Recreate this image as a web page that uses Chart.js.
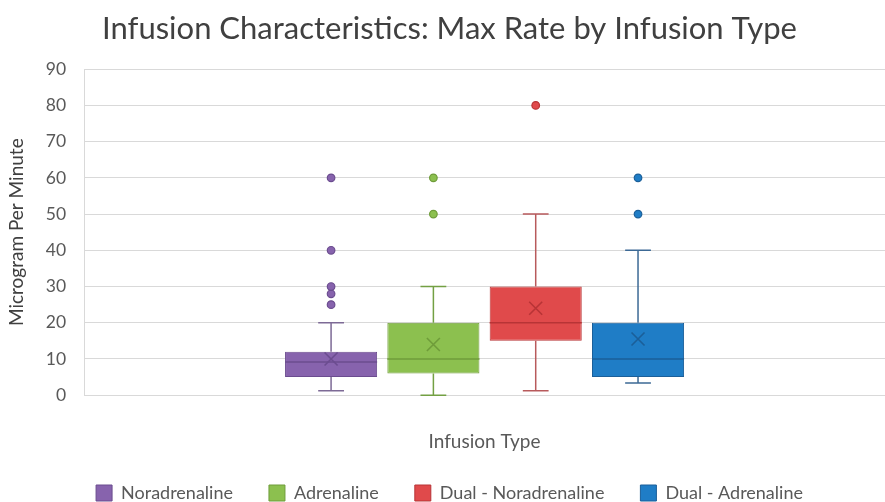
<!DOCTYPE html>
<html>
<head>
<meta charset="utf-8">
<script src="https://cdn.jsdelivr.net/npm/chart.js@4"></script>
<style>
html,body{margin:0;padding:0;background:#fff;}
#wrap{width:885px;height:502px;}
</style>
</head>
<body>
<div id="wrap"><canvas id="c"></canvas></div>
<script>
// ---- data ----
const categories = [''];
const seriesNames = ['Noradrenaline', 'Adrenaline', 'Dual - Noradrenaline', 'Dual - Adrenaline'];
const mins    = [1.2, 0, 1.2, 3.4];
const q1s     = [5, 6, 15, 5];
const medians = [9.2, 10, 20, 10];
const q3s     = [12, 20, 30, 20];
const maxs    = [20, 30, 50, 40];
const means   = [10, 14, 24, 15.5];
const outliers = [[25, 28, 30, 40, 60], [50, 60], [80], [50, 60]];
const yTicks = [0, 10, 20, 30, 40, 50, 60, 70, 80, 90];

// ---- styles ----
const fills   = ['#8763ad', '#8cc04f', '#e04a4b', '#1f7dc6'];
const borders = ['#6b4c8f', '#6f9c3a', '#b83436', '#1b5f99'];
const whisk   = ['#7d6a96', '#73a043', '#b85a5c', '#3c6995'];
const FONT = 'Lato, "Open Sans", sans-serif';
const TXT = '#595959';

const datasets = seriesNames.map((n, i) => ({
  label: n,
  data: [[q1s[i], q3s[i]]],
  backgroundColor: fills[i],
  borderColor: borders[i],
  borderWidth: 1,
  borderSkipped: false,
  categoryPercentage: 0.511,
  barPercentage: 0.9
}));

const boxPlugin = {
  id: 'boxExtras',
  afterDatasetsDraw(chart) {
    const ctx = chart.ctx;
    const ys = chart.scales.y;
    chart.data.datasets.forEach((ds, i) => {
      const meta = chart.getDatasetMeta(i);
      if (meta.hidden) return;
      const bar = meta.data[0];
      const x = bar.x, w = bar.width;
      const left = x - w / 2, right = x + w / 2;
      const py = v => ys.getPixelForValue(v);
      const cap = w * 0.28;
      ctx.save();
      ctx.strokeStyle = whisk[i];
      ctx.lineWidth = 1.5;
      ctx.beginPath();
      ctx.moveTo(x, py(q3s[i])); ctx.lineTo(x, py(maxs[i]));
      ctx.moveTo(x - cap / 2, py(maxs[i])); ctx.lineTo(x + cap / 2, py(maxs[i]));
      ctx.moveTo(x, py(q1s[i])); ctx.lineTo(x, py(mins[i]));
      ctx.moveTo(x - cap / 2, py(mins[i])); ctx.lineTo(x + cap / 2, py(mins[i]));
      ctx.stroke();
      ctx.strokeStyle = borders[i];
      ctx.lineWidth = 1.5;
      ctx.beginPath();
      ctx.moveTo(left, py(medians[i])); ctx.lineTo(right, py(medians[i]));
      ctx.stroke();
      const s = 6.5, my = py(means[i]);
      ctx.lineWidth = 1.6;
      ctx.beginPath();
      ctx.moveTo(x - s, my - s); ctx.lineTo(x + s, my + s);
      ctx.moveTo(x + s, my - s); ctx.lineTo(x - s, my + s);
      ctx.stroke();
      ctx.fillStyle = fills[i];
      ctx.strokeStyle = borders[i];
      ctx.lineWidth = 1.2;
      outliers[i].forEach(v => {
        ctx.beginPath();
        ctx.arc(x, py(v), 3.8, 0, Math.PI * 2);
        ctx.fill(); ctx.stroke();
      });
      ctx.restore();
    });
  }
};

new Chart(document.getElementById('c'), {
  type: 'bar',
  data: { labels: categories, datasets },
  options: {
    responsive: true,
    maintainAspectRatio: false,
    animation: false,
    layout: { padding: { left: 5, right: -9, top: 0, bottom: -10 } },
    plugins: {
      title: {
        display: true,
        text: 'Infusion Characteristics: Max Rate by Infusion Type',
        color: '#404040',
        font: { family: FONT, size: 31, weight: 'normal' },
        padding: { top: 10, bottom: 22 }
      },
      legend: {
        position: 'bottom',
        labels: {
          color: TXT,
          font: { family: FONT, size: 18 },
          boxWidth: 16,
          boxHeight: 16,
          padding: 36
        }
      },
      tooltip: { enabled: false }
    },
    scales: {
      x: {
        grid: { display: false },
        border: { display: false },
        ticks: { display: false },
        title: {
          display: true,
          text: 'Infusion Type',
          color: TXT,
          font: { family: FONT, size: 19 },
          padding: { top: 27, bottom: -5 }
        }
      },
      y: {
        min: 0, max: 90,
        afterBuildTicks(scale) { scale.ticks = yTicks.map(v => ({ value: v })); },
        grid: { color: '#d9d9d9', lineWidth: 1, drawTicks: false },
        border: { display: true, color: '#d9d9d9' },
        ticks: { color: TXT, font: { family: FONT, size: 17.5 }, padding: 18 },
        title: {
          display: true,
          text: 'Microgram Per Minute',
          color: '#404040',
          font: { family: FONT, size: 19 },
          padding: { top: 0, bottom: 0 }
        }
      }
    }
  },
  plugins: [boxPlugin]
});
</script>
</body>
</html>
